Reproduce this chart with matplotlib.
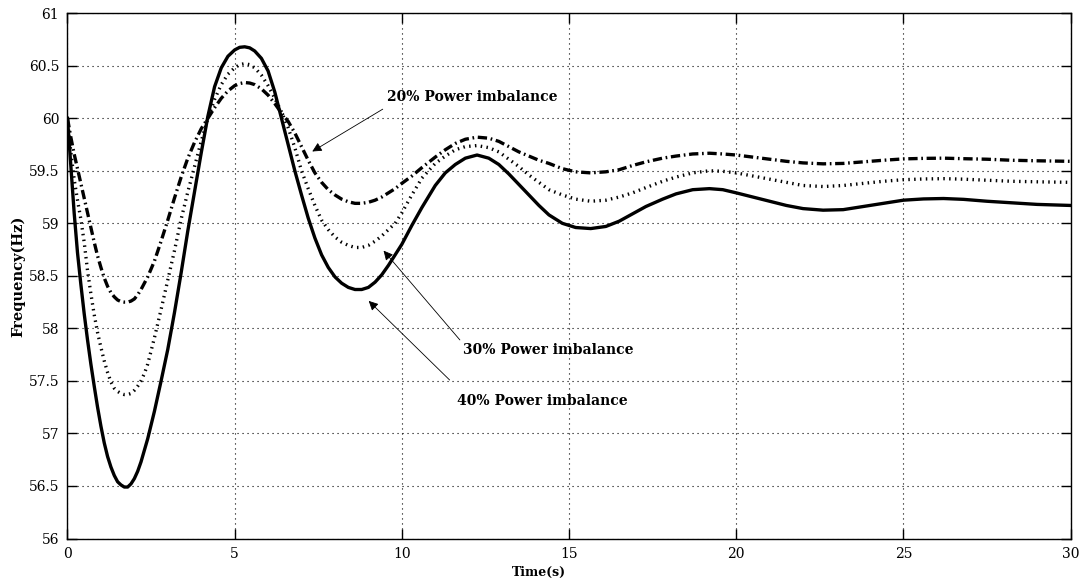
import matplotlib
matplotlib.use("Agg")
import matplotlib.pyplot as plt

# ---- data ----
time_s = [0, 0.1, 0.2, 0.3, 0.4, 0.5, 0.6, 0.7, 0.8, 0.9, 1.0, 1.1, 1.2, 1.3, 1.4, 1.5,
          1.6, 1.7, 1.8, 1.9, 2.0, 2.1, 2.2, 2.3, 2.4, 2.6, 2.8, 3.0, 3.2, 3.4, 3.6, 3.8,
          4.0, 4.2, 4.4, 4.6, 4.8, 5.0, 5.15, 5.3, 5.45, 5.6, 5.8, 6.0, 6.2, 6.4, 6.6,
          6.8, 7.0, 7.2, 7.4, 7.6, 7.8, 8.0, 8.2, 8.4, 8.6, 8.8, 9.0, 9.2, 9.4, 9.6, 9.8,
          10.0, 10.3, 10.6, 11.0, 11.3, 11.6, 11.9, 12.25, 12.6, 12.9, 13.2, 13.5, 13.8,
          14.1, 14.4, 14.8, 15.2, 15.65, 16.1, 16.5, 16.9, 17.3, 17.8, 18.2, 18.7, 19.2,
          19.6, 20.0, 20.5, 21.0, 21.5, 22.0, 22.6, 23.2, 23.8, 24.4, 25.0, 25.6, 26.2,
          26.8, 27.5, 28.25, 29.0, 30.0]

freq_40 = [60.0, 59.55, 59.1, 58.72, 58.42, 58.14, 57.89, 57.66, 57.45, 57.25, 57.07, 56.91,
           56.78, 56.68, 56.6, 56.54, 56.51, 56.49, 56.49, 56.52, 56.57, 56.64, 56.73, 56.84,
           56.95, 57.21, 57.5, 57.8, 58.15, 58.53, 58.93, 59.3, 59.67, 60.02, 60.3, 60.48,
           60.59, 60.65, 60.675, 60.68, 60.67, 60.64, 60.57, 60.45, 60.25, 60.0, 59.75, 59.5,
           59.27, 59.05, 58.86, 58.7, 58.58, 58.49, 58.43, 58.39, 58.37, 58.37, 58.39, 58.44,
           58.51, 58.6, 58.7, 58.8, 58.98, 59.15, 59.36, 59.48, 59.56, 59.62, 59.65, 59.62,
           59.56, 59.47, 59.37, 59.27, 59.17, 59.08, 59.0, 58.96, 58.95, 58.97, 59.02, 59.09,
           59.16, 59.23, 59.28, 59.32, 59.33, 59.32, 59.29, 59.25, 59.21, 59.17, 59.14,
           59.125, 59.13, 59.16, 59.19, 59.22, 59.232, 59.236, 59.228, 59.21, 59.195,
           59.18, 59.17]

freq_30 = [60.0, 59.68, 59.42, 59.22, 59.04, 58.82, 58.55, 58.33, 58.13, 57.96, 57.82, 57.69,
           57.58, 57.49, 57.43, 57.4, 57.38, 57.37, 57.37, 57.38, 57.41, 57.45, 57.5, 57.57,
           57.66, 57.91, 58.18, 58.46, 58.74, 59.04, 59.3, 59.54, 59.78, 60.0, 60.18, 60.32,
           60.42, 60.48, 60.51, 60.52, 60.51, 60.48, 60.41, 60.31, 60.19, 60.06, 59.91, 59.72,
           59.5, 59.33, 59.17, 59.03, 58.94, 58.87, 58.82, 58.79, 58.77, 58.77, 58.79, 58.83,
           58.88, 58.94, 59.0, 59.1, 59.27, 59.43, 59.57, 59.64, 59.7, 59.73, 59.74, 59.72,
           59.68, 59.61, 59.54, 59.46, 59.39, 59.32, 59.27, 59.23, 59.21, 59.22, 59.25, 59.29,
           59.34, 59.4, 59.44, 59.48, 59.5, 59.495, 59.48, 59.45, 59.42, 59.39, 59.36, 59.35,
           59.36, 59.38, 59.4, 59.415, 59.422, 59.425, 59.42, 59.41, 59.40, 59.395, 59.39]

freq_20 = [60.0, 59.82, 59.66, 59.52, 59.38, 59.24, 59.1, 58.96, 58.82, 58.69, 58.58, 58.48,
           58.4, 58.34, 58.3, 58.27, 58.255, 58.25, 58.25, 58.26, 58.28, 58.32, 58.37, 58.43,
           58.49, 58.64, 58.83, 59.03, 59.24, 59.44, 59.62, 59.77, 59.9, 60.0, 60.1, 60.19,
           60.26, 60.31, 60.33, 60.34, 60.335, 60.32, 60.28, 60.22, 60.14, 60.05, 59.97, 59.86,
           59.73, 59.6, 59.48, 59.39, 59.32, 59.27, 59.23, 59.205, 59.19, 59.19, 59.2, 59.22,
           59.25, 59.29, 59.33, 59.38, 59.45, 59.53, 59.63, 59.7, 59.76, 59.8, 59.82, 59.81,
           59.78, 59.73, 59.68, 59.64, 59.6, 59.57, 59.52, 59.49, 59.48, 59.49, 59.51, 59.55,
           59.585, 59.62, 59.64, 59.66, 59.667, 59.66, 59.65, 59.63, 59.61, 59.59, 59.575,
           59.566, 59.57, 59.585, 59.6, 59.613, 59.618, 59.62, 59.615, 59.61, 59.6, 59.595,
           59.59]

x_ticks = [0, 5, 10, 15, 20, 25, 30]
y_ticks = [56, 56.5, 57, 57.5, 58, 58.5, 59, 59.5, 60, 60.5, 61]
y_tick_labels = ["56", "56.5", "57", "57.5", "58", "58.5", "59", "59.5", "60", "60.5", "61"]

labels = ["20% Power imbalance", "30% Power imbalance", "40% Power imbalance"]

plt.rcParams['font.family'] = ['DejaVu Serif']

fig = plt.figure(figsize=(10.83, 5.83), dpi=100)
ax = fig.add_axes([0.0623, 0.0763, 0.9262, 0.9011])

ax.plot(time_s, freq_40, color='black', lw=2.4, solid_joinstyle='round')
ax.plot(time_s, freq_30, color='black', lw=2.4, linestyle=(0, (0.45, 1.3)))
ax.plot(time_s, freq_20, color='black', lw=2.4, linestyle=(0, (2.8, 1.1, 0.5, 1.1)))

ax.set_xlim(0, 30)
ax.set_ylim(56, 61)
ax.set_xticks(x_ticks)
ax.set_xticklabels([str(v) for v in x_ticks])
ax.set_yticks(y_ticks)
ax.set_yticklabels(y_tick_labels)
ax.tick_params(direction='in', length=7, width=1, top=True, right=True,
               labelsize=10, pad=6)
ax.grid(True, color='black', lw=0.8, linestyle=(0, (1.0, 3.5)))
for s in ax.spines.values():
    s.set_linewidth(1.0)
    s.set_color('black')

ax.set_xlabel("Time(s)", fontsize=9, fontweight='bold', va='center')
ax.xaxis.set_label_coords(0.47, -0.0638)
ax.set_ylabel("Frequency(Hz)", fontsize=10.5, fontweight='bold', va='center')
ax.yaxis.set_label_coords(-0.0494, 0.5)

arrow = dict(arrowstyle='-|>', color='black', lw=0.6, mutation_scale=14)
ax.annotate('', xy=(7.25, 59.67), xytext=(9.5, 60.1), arrowprops=arrow)
ax.annotate('', xy=(9.4, 58.76), xytext=(11.79, 57.87), arrowprops=arrow)
ax.annotate('', xy=(8.95, 58.28), xytext=(11.49, 57.49), arrowprops=arrow)

ax.text(9.56, 60.2, labels[0], fontsize=10, fontweight='bold', ha='left', va='center')
ax.text(11.82, 57.79, labels[1], fontsize=10, fontweight='bold', ha='left', va='center')
ax.text(11.64, 57.31, labels[2], fontsize=10, fontweight='bold', ha='left', va='center')

fig.savefig("out.png", dpi=100)
